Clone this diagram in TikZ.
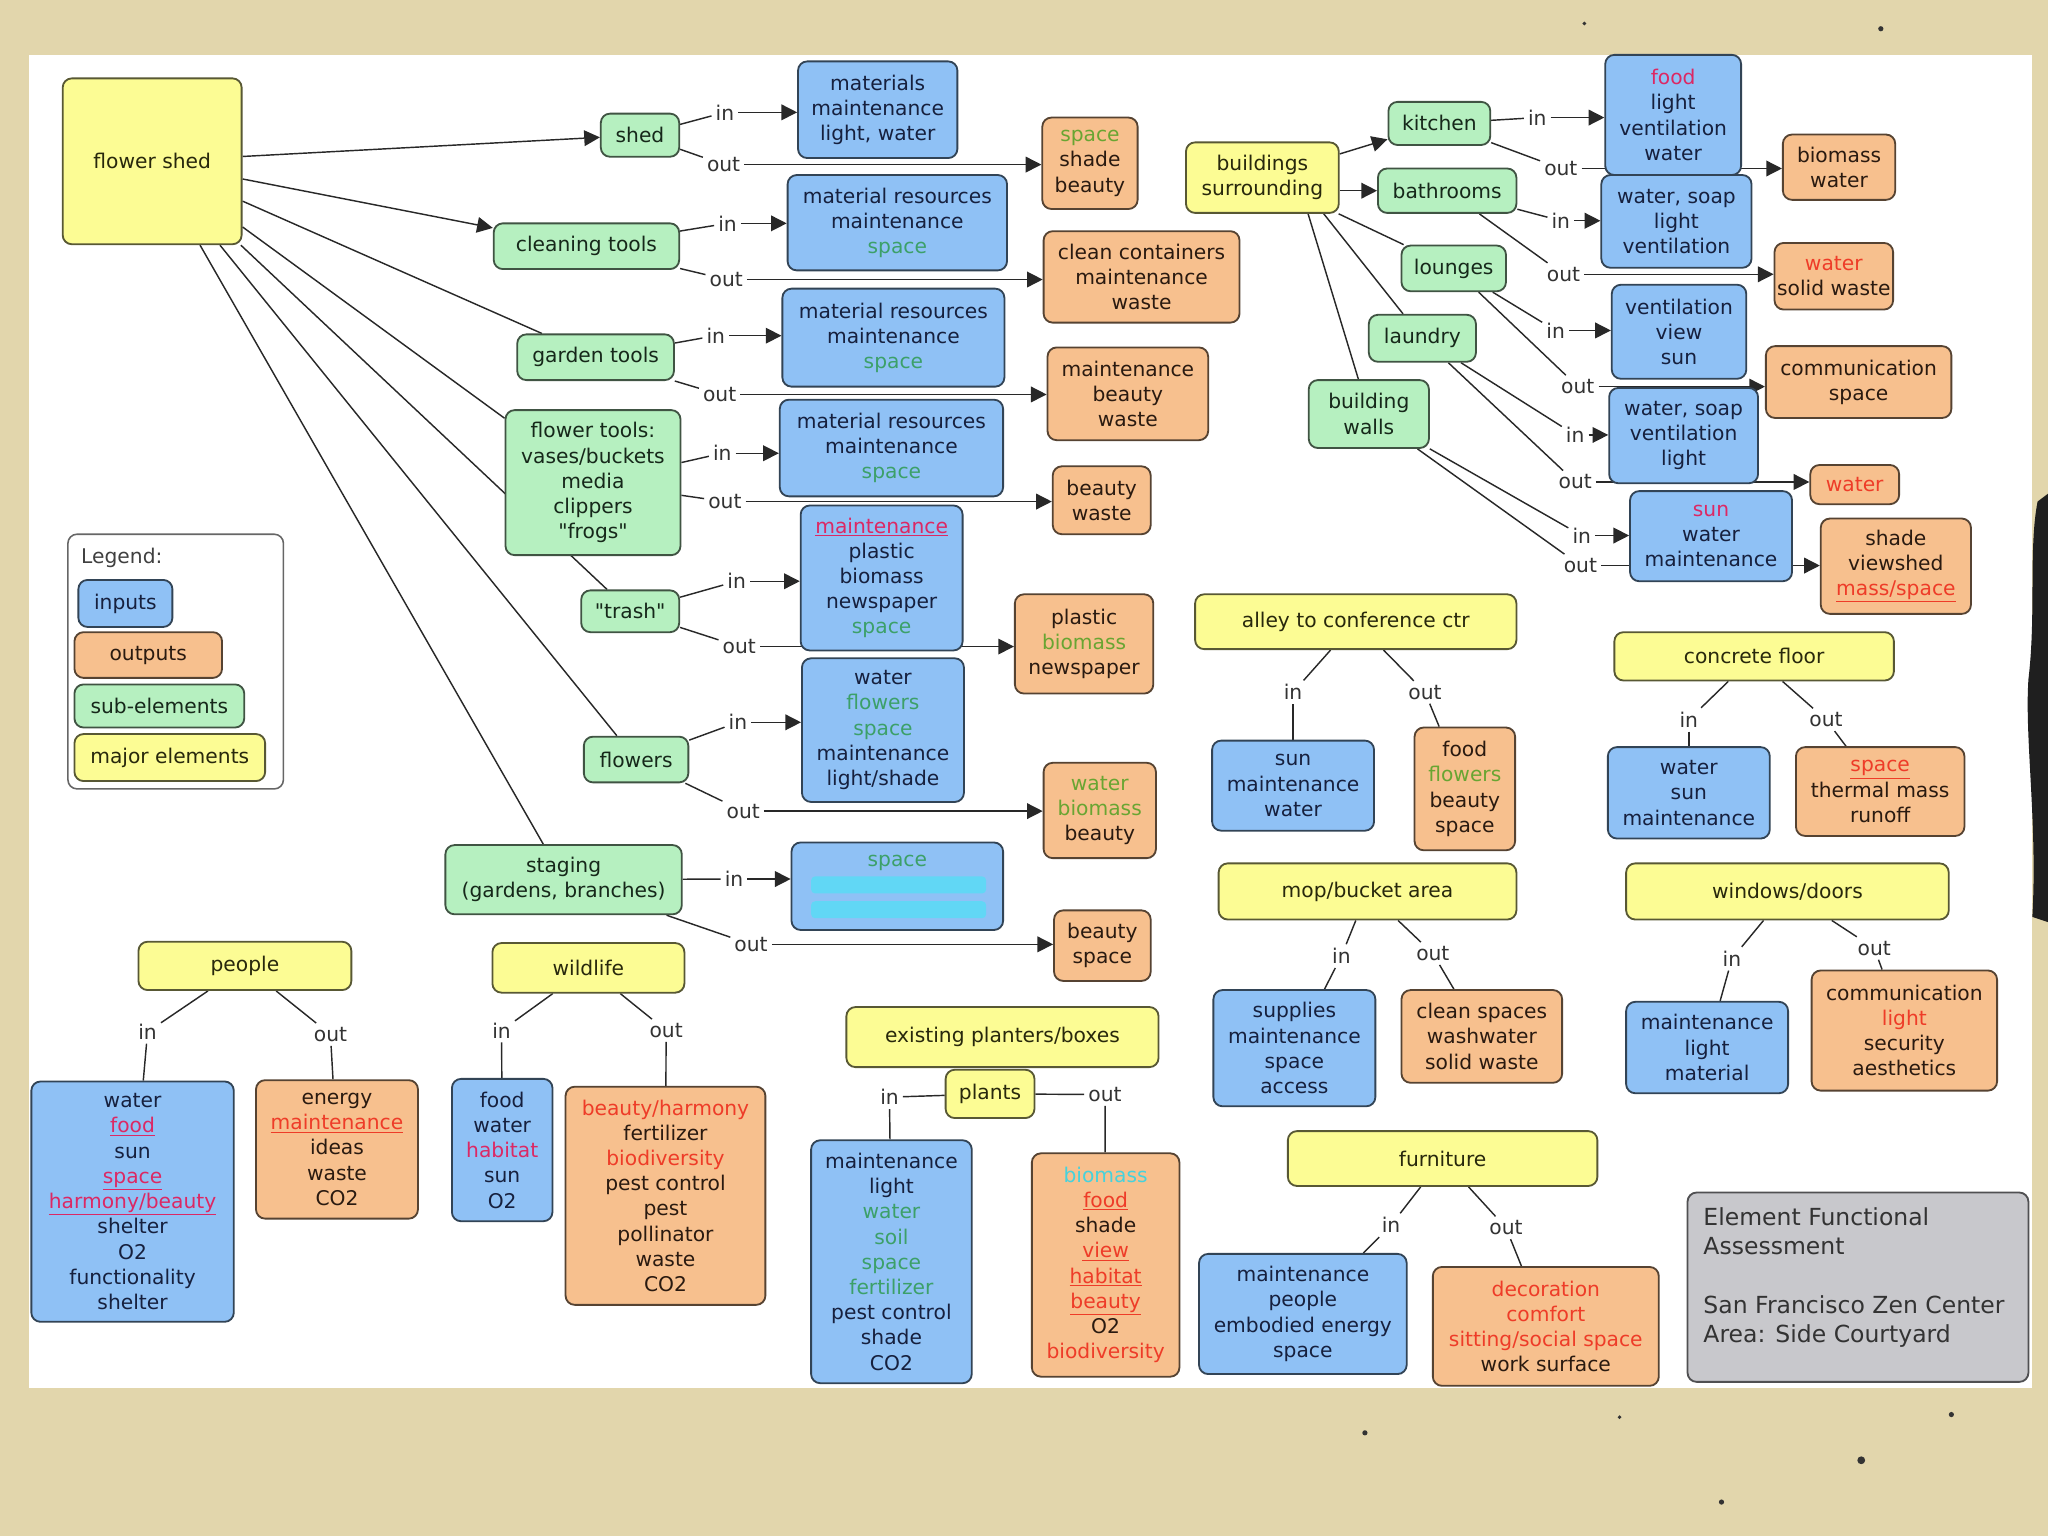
\documentclass[tikz,border=0pt]{standalone}
\usepackage{fontspec}
\setmainfont{DejaVu Sans}
\newfontfamily\dvs{DejaVu Sans}
\usetikzlibrary{arrows.meta}
\pgfdeclarelayer{back}
\pgfdeclarelayer{bg}
\pgfsetlayers{back,bg,main}
\definecolor{cBeige}{RGB}{226,214,172}
\definecolor{cBlue}{RGB}{143,193,245}
\definecolor{cOrange}{RGB}{247,192,142}
\definecolor{cGreen}{RGB}{182,240,192}
\definecolor{cYellow}{RGB}{252,252,148}
\definecolor{cGray}{RGB}{200,200,204}
\definecolor{tBlue}{RGB}{22,32,62}
\definecolor{tOrange}{RGB}{42,26,16}
\definecolor{tGreen}{RGB}{22,40,26}
\definecolor{tYellow}{RGB}{40,40,12}
\definecolor{cLine}{RGB}{40,40,40}
\definecolor{wGreen}{RGB}{60,160,105}
\definecolor{wOlive}{RGB}{105,165,50}
\definecolor{wRed}{RGB}{238,60,40}
\definecolor{wPink}{RGB}{220,40,100}
\definecolor{wCyan}{RGB}{70,210,220}
\definecolor{wBar}{RGB}{90,220,245}
\newcommand\myfont{\dvs\fontsize{15.5}{19.3}\selectfont}
\newcommand\cw[2]{{\color{#1}#2}}
\newcommand\uw[2]{{\color{#1}\underline{#2}}}
\tikzset{
 base/.style={rounded corners=7pt, line width=1.4pt, align=center, inner sep=2pt, font=\myfont},
 inb/.style={base, fill=cBlue, draw=cBlue!35!black, text=tBlue},
 outb/.style={base, fill=cOrange, draw=cOrange!35!black, text=tOrange},
 subb/.style={base, fill=cGreen, draw=cGreen!35!black, text=tGreen},
 majb/.style={base, fill=cYellow, draw=cYellow!35!black, text=tYellow},
 grayb/.style={base, fill=cGray, draw=cGray!40!black},
 wh/.style 2 args={minimum width=#1pt, minimum height=#2pt},
 lbl/.style={inner sep=3pt, font=\myfont, text=black!80},
 ln/.style={line width=1.1pt, draw=cLine},
 arr/.style={ln, -{Triangle[length=12pt,width=12pt]}},
}
\begin{document}
\begin{tikzpicture}[x=1pt,y=-1pt]
\useasboundingbox (0,0) rectangle (1568,1176);
\begin{pgfonlayer}{back}
\fill[cBeige] (0,0) rectangle (1568,1176);
\fill[white] (22,42) rectangle (1556,1063);
\fill[black!88] (1568,378) -- (1560,384) .. controls (1553,420) and (1559,470) .. (1553,520) .. controls (1550,565) and (1560,630) .. (1556,702) -- (1568,706) -- cycle;
\foreach \p/\r in {{(1425,1118)/3},{(1045,1097)/2},{(1318,1150)/2},{(1494,1083)/2},{(1213,18)/1.5},{(1440,22)/2},{(1240,1085)/1.5}}
  \fill[black!80] \p circle (\r);
\end{pgfonlayer}

% ---------- left column ----------
\node[majb, wh={137}{127}] (fs) at (116.5,123.5) {flower shed};

\node[subb, wh={60}{33}] (shed) at (490,103.5) {shed};
\node[inb, wh={122}{74}] (shedI) at (672,84) {materials\\maintenance\\light, water};
\node[outb, wh={73}{70}] (shedO) at (834.5,125) {\cw{wOlive}{space}\\shade\\beauty};
\node[lbl] (shedi) at (555,86) {in};
\node[lbl] (shedo) at (554,126) {out};

\node[subb, wh={142}{35}] (ct) at (449,188.5) {cleaning tools};
\node[inb, wh={168}{73}] (ctI) at (687,170.5) {material resources\\maintenance\\\cw{wGreen}{space}};
\node[outb, wh={150}{70}] (ctO) at (874,212) {clean containers\\maintenance\\waste};
\node[lbl] (cti) at (557,171) {in};
\node[lbl] (cto) at (556,214) {out};

\node[subb, wh={120}{35}] (gt) at (456,273.5) {garden tools};
\node[inb, wh={170}{75}] (gtI) at (684,258.5) {material resources\\maintenance\\\cw{wGreen}{space}};
\node[outb, wh={123}{71}] (gtO) at (863.5,301.5) {maintenance\\beauty\\waste};
\node[lbl] (gti) at (548,257) {in};
\node[lbl] (gto) at (551,302) {out};

\node[subb, wh={134}{111}] (ft) at (454,369.5) {flower tools:\\vases/buckets\\media\\clippers\\"frogs"};
\node[inb, wh={171}{74}] (ftI) at (682.5,343) {material resources\\maintenance\\\cw{wGreen}{space}};
\node[outb, wh={75}{52}] (ftO) at (843.5,383) {beauty\\waste};
\node[lbl] (fti) at (553,347) {in};
\node[lbl] (fto) at (555,384) {out};

\node[subb, wh={75}{32}] (tr) at (482.5,468) {"trash"};
\node[inb, wh={124}{111}] (trI) at (675,442.5) {\uw{wPink}{maintenance}\\plastic\\biomass\\newspaper\\\cw{wGreen}{space}};
\node[outb, wh={106}{76}] (trO) at (830,493) {plastic\\\cw{wOlive}{biomass}\\newspaper};
\node[lbl] (tri) at (564,445) {in};
\node[lbl] (tro) at (566,495) {out};

\node[subb, wh={80}{35}] (fl) at (487,581.5) {flowers};
\node[inb, wh={124}{110}] (flI) at (676,559) {water\\\cw{wGreen}{flowers}\\\cw{wGreen}{space}\\maintenance\\light/shade};
\node[outb, wh={86}{73}] (flO) at (842,620.5) {\cw{wOlive}{water}\\\cw{wOlive}{biomass}\\beauty};
\node[lbl] (fli) at (565,553) {in};
\node[lbl] (flo) at (569,621) {out};

\node[subb, wh={181}{53}] (st) at (431.5,673.5) {staging\\(gardens, branches)};
\node[inb, wh={162}{67}] (stI) at (687,678.5) {\cw{wGreen}{space}\\\phantom{x}\\\phantom{x}};
\fill[wBar, opacity=0.85, rounded corners=3pt] (621,671) rectangle (755,684);
\fill[wBar, opacity=0.85, rounded corners=3pt] (621,690) rectangle (755,703);
\node[outb, wh={74}{54}] (stO) at (844,724) {beauty\\space};
\node[lbl] (sti) at (562,673) {in};
\node[lbl] (sto) at (575,723) {out};

% ---------- buildings ----------
\node[majb, wh={117}{54}] (bs) at (966.5,136) {buildings\\surrounding};
\node[subb, wh={78}{33}] (ki) at (1102,94.5) {kitchen};
\node[subb, wh={106}{34}] (ba) at (1108,146) {bathrooms};
\node[subb, wh={80}{35}] (lo) at (1113,205.5) {lounges};
\node[subb, wh={82}{36}] (la) at (1089,259) {laundry};
\node[subb, wh={92}{52}] (bw) at (1048,317) {building\\walls};
\node[inb, wh={104}{92}] (kiI) at (1281,88) {\cw{wPink}{food}\\light\\ventilation\\water};
\node[outb, wh={86}{50}] (kiO) at (1408,128) {biomass\\water};
\node[inb, wh={115}{71}] (baI) at (1283.5,169.5) {water, soap\\light\\ventilation};
\node[outb, wh={80}{51}] (baO) at (1404,211.5) {\cw{wRed}{water}\\solid waste};
\node[inb, wh={103}{72}] (loI) at (1285.5,254) {ventilation\\view\\sun};
\node[outb, wh={142}{55}] (loO) at (1423,292.5) {communication\\space};
\node[inb, wh={114}{73}] (laI) at (1289,333.5) {water, soap\\ventilation\\light};
\node[outb, wh={68}{30}] (laO) at (1420,371) {\cw{wRed}{water}};
\node[inb, wh={124}{69}] (bwI) at (1310,410.5) {\cw{wPink}{sun}\\water\\maintenance};
\node[outb, wh={115}{73}] (bwO) at (1451.5,433.5) {shade\\viewshed\\\uw{wRed}{mass/space}};
\node[lbl] (kii) at (1177,90) {in};
\node[lbl] (kio) at (1195,129) {out};
\node[lbl] (bai) at (1195,169) {in};
\node[lbl] (bao) at (1197,210) {out};
\node[lbl] (loi) at (1191,253) {in};
\node[lbl] (loo) at (1208,296) {out};
\node[lbl] (lai) at (1206,333) {in};
\node[lbl] (lao) at (1206,369) {out};
\node[lbl] (bwi) at (1211,410) {in};
\node[lbl] (bwo) at (1210,433) {out};

% ---------- middle right groups ----------
\node[majb, wh={246}{42}] (al) at (1038,476) {alley to conference ctr};
\node[inb, wh={124}{69}] (alI) at (990,601.5) {sun\\maintenance\\water};
\node[outb, wh={77}{94}] (alO) at (1121.5,604) {food\\\cw{wOlive}{flowers}\\beauty\\space};
\node[lbl] (ali) at (990,530) {in};
\node[lbl] (alo) at (1091,530) {out};

\node[majb, wh={214}{37}] (cf) at (1343,502.5) {concrete floor};
\node[inb, wh={124}{70}] (cfI) at (1293,607) {water\\sun\\maintenance};
\node[outb, wh={129}{68}] (cfO) at (1439.5,606) {\uw{wRed}{space}\\thermal mass\\runoff};
\node[lbl] (cfi) at (1293,551) {in};
\node[lbl] (cfo) at (1398,551) {out};

\node[majb, wh={228}{43}] (mb) at (1047,682.5) {mop/bucket area};
\node[inb, wh={124}{89}] (mbI) at (991,802.5) {supplies\\maintenance\\space\\access};
\node[outb, wh={123}{71}] (mbO) at (1134.5,793.5) {clean spaces\\washwater\\solid waste};
\node[lbl] (mbi) at (1027,732) {in};
\node[lbl] (mbo) at (1097,730) {out};

\node[majb, wh={247}{43}] (wd) at (1368.5,682.5) {windows/doors};
\node[inb, wh={124}{70}] (wdI) at (1307,802) {maintenance\\light\\material};
\node[outb, wh={142}{92}] (wdO) at (1458,789) {communication\\\cw{wRed}{light}\\security\\aesthetics};
\node[lbl] (wdi) at (1326,734) {in};
\node[lbl] (wdo) at (1435,726) {out};

% ---------- bottom groups ----------
\node[majb, wh={163}{37}] (pe) at (187.5,739.5) {people};
\node[inb, wh={155}{184}] (peI) at (101.5,920) {water\\\uw{wPink}{food}\\sun\\\uw{wPink}{space}\\\uw{wPink}{harmony/beauty}\\shelter\\O2\\functionality\\shelter};
\node[outb, wh={124}{106}] (peO) at (258,880) {energy\\\uw{wRed}{maintenance}\\ideas\\waste\\CO2};
\node[lbl] (pei) at (113,790) {in};
\node[lbl] (peo) at (253,792) {out};

\node[majb, wh={147}{38}] (wl) at (450.5,741) {wildlife};
\node[inb, wh={77}{109}] (wlI) at (384.5,880.5) {food\\water\\\cw{wPink}{habitat}\\sun\\O2};
\node[outb, wh={153}{167}] (wlO) at (509.5,915.5) {\cw{wRed}{beauty/harmony}\\fertilizer\\\cw{wRed}{biodiversity}\\pest control\\pest\\pollinator\\waste\\CO2};
\node[lbl] (wli) at (384,789) {in};
\node[lbl] (wlo) at (510,789) {out};

\node[majb, wh={239}{46}] (ep) at (767.5,794) {existing planters/boxes};
\node[majb, wh={68}{37}] (pl) at (758,837.5) {plants};
\node[inb, wh={123}{186}] (plI) at (682.5,966) {maintenance\\light\\\cw{wGreen}{water}\\\cw{wGreen}{soil}\\\cw{wGreen}{space}\\\cw{wGreen}{fertilizer}\\pest control\\shade\\CO2};
\node[outb, wh={113}{171}] (plO) at (846.5,968.5) {\cw{wCyan}{biomass}\\\uw{wRed}{food}\\shade\\\uw{wRed}{view}\\\uw{wRed}{habitat}\\\uw{wRed}{beauty}\\O2\\\cw{wRed}{biodiversity}};
\node[lbl] (pli) at (681,840) {in};
\node[lbl] (plo) at (846,838) {out};

\node[majb, wh={237}{42}] (fu) at (1104.5,887) {furniture};
\node[inb, wh={159}{92}] (fuI) at (997.5,1006) {maintenance\\people\\embodied energy\\space};
\node[outb, wh={173}{91}] (fuO) at (1183.5,1015.5) {\cw{wRed}{decoration}\\\cw{wRed}{comfort}\\\cw{wRed}{sitting/social space}\\work surface};
\node[lbl] (fui) at (1065,938) {in};
\node[lbl] (fuo) at (1153,940) {out};

% ---------- title box ----------
\node[grayb, wh={261}{145}] (ti) at (1422.5,985.5) {};
\node[anchor=north west, align=left, inner sep=0pt, text=black!80, font=\dvs\fontsize{18}{22.5}\selectfont] (tit) at (1304,924) {Element Functional\\Assessment\\[22.5pt]San Francisco Zen Center\\Area: Side Courtyard};

% ---------- legend ----------
\node[draw=black!60, fill=white, rounded corners=7pt, line width=1.2pt, wh={165}{195}] (lg) at (134.5,506.5) {};
\node[anchor=west, inner sep=0pt, font=\myfont, text=black!75] (lgt) at (62,427) {Legend:};
\node[inb, wh={72}{36}] (lg1) at (96,462) {inputs};
\node[outb, wh={113}{35}] (lg2) at (113.5,501.5) {outputs};
\node[subb, wh={130}{33}] (lg3) at (122,540.5) {sub-elements};
\node[majb, wh={146}{36}] (lg4) at (130,580) {major elements};

% ---------- connectors ----------
\begin{pgfonlayer}{bg}
\draw[arr] (fs) -- (shed);
\draw[arr] (fs) -- (ct);
\draw[ln] (fs) -- (gt);
\draw[ln] (fs) -- (ft);
\draw[ln] (fs) -- (tr);
\draw[ln] (fs) -- (fl);
\draw[ln] (fs) -- (st);
\foreach \s in {shed,ct,gt,ft,tr,fl,st,ki,ba,lo,la,bw}{
  \draw[ln] (\s) -- (\s i);
  \draw[arr] (\s i) -- (\s i -| \s I.west);
  \draw[ln] (\s) -- (\s o);
  \draw[arr] (\s o) -- (\s o -| \s O.west);
}
\draw[arr] (bs) -- (ki);
\draw[arr] (bs.east |- ba) -- (ba);
\draw[ln] (bs) -- (lo);
\draw[ln] ([xshift=47pt]bs.south) -- (la);
\draw[ln] ([xshift=35pt]bs.south) -- ([xshift=-8pt]bw.north);
\foreach \s in {al,cf,mb,wd,pe,wl,fu,pl}{
  \draw[ln] (\s) -- (\s i);
  \draw[ln] (\s i) -- (\s I);
  \draw[ln] (\s) -- (\s o);
  \draw[ln] (\s o) -- (\s O);
}
\end{pgfonlayer}
\end{tikzpicture}
\end{document}
